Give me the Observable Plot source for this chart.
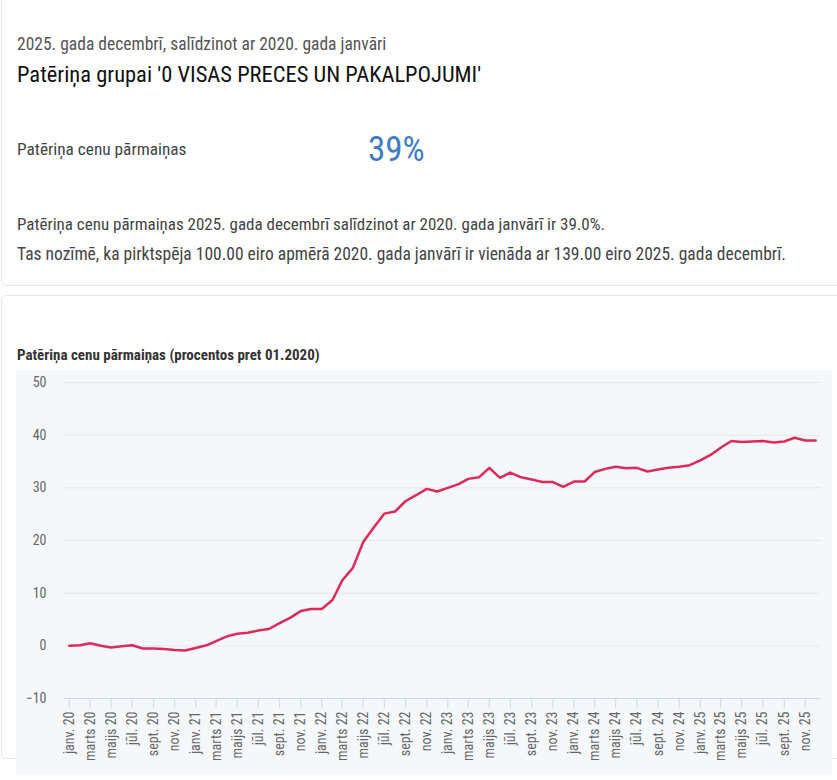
<!DOCTYPE html>
<html>
<head>
<meta charset="utf-8">
<script src="https://cdn.jsdelivr.net/npm/d3@7"></script>
<script src="https://cdn.jsdelivr.net/npm/@observablehq/plot@0.6"></script>
<style>
  html, body { margin: 0; padding: 0; background: #fff; width: 837px; height: 780px; overflow: hidden; }
  body { position: relative; font-family: "Roboto Condensed", "Liberation Sans Narrow", "DejaVu Sans Condensed", Roboto, sans-serif; }
  .card { position: absolute; border: 1px solid #e6e6e6; border-radius: 5px; background: #fff; box-sizing: border-box; }
  .t { position: absolute; left: 17px; line-height: 1; white-space: nowrap; }
  #chart { position: absolute; left: 16px; top: 370px; }
</style>
</head>
<body>
<div class="card" style="left:1px; top:-10px; width:860px; height:296px;"></div>
<div class="card" style="left:1px; top:295px; width:860px; height:464px;"></div>

<div class="t" id="sub" style="top:35.7px; font-size:17.5px; color:#555;"></div>
<div class="t" id="title" style="top:62.6px; font-size:22.5px; color:#111;"></div>
<div class="t" id="label" style="top:141px; font-size:17.3px; color:#444;"></div>
<div class="t" id="big" style="left:368px; top:132.2px; font-size:35px; color:#3d7cc9;"></div>
<div class="t" id="p1" style="top:216.4px; font-size:17px; color:#444;"></div>
<div class="t" id="p2" style="top:245.7px; font-size:17.5px; color:#444;"></div>
<div class="t" id="ctitle" style="top:348.2px; font-size:15px; font-weight:bold; color:#333;"></div>
<div id="chart"></div>

<script>
// ---- Texts ----
const subtitleText = "2025. gada decembrī, salīdzinot ar 2020. gada janvāri";
const titleText = "Patēriņa grupai '0 VISAS PRECES UN PAKALPOJUMI'";
const kpiLabel = "Patēriņa cenu pārmaiņas";
const kpiValue = "39%";
const paragraph1 = "Patēriņa cenu pārmaiņas 2025. gada decembrī salīdzinot ar 2020. gada janvārī ir 39.0%.";
const paragraph2 = "Tas nozīmē, ka pirktspēja 100.00 eiro apmērā 2020. gada janvārī ir vienāda ar 139.00 eiro 2025. gada decembrī.";
const chartTitle = "Patēriņa cenu pārmaiņas (procentos pret 01.2020)";

// ---- Data: monthly change vs 01.2020 (%), Jan 2020 .. Dec 2025 ----
const startYear = 2020;
const values2020 = [0.0, 0.1, 0.5, 0.0, -0.3, -0.1, 0.1, -0.5, -0.5, -0.6, -0.8, -0.9];
const values2021 = [-0.4, 0.1, 0.9, 1.8, 2.3, 2.5, 2.9, 3.2, 4.3, 5.3, 6.6, 7.0];
const values2022 = [7.0, 8.7, 12.4, 14.8, 19.7, 22.5, 25.1, 25.5, 27.5, 28.6, 29.8, 29.3];
const values2023 = [30.0, 30.7, 31.7, 32.0, 33.8, 31.9, 32.9, 32.0, 31.6, 31.1, 31.1, 30.2];
const values2024 = [31.2, 31.2, 33.0, 33.6, 34.0, 33.7, 33.8, 33.1, 33.5, 33.8, 34.0, 34.3];
const values2025 = [35.2, 36.3, 37.6, 38.9, 38.7, 38.8, 38.9, 38.6, 38.8, 39.5, 39.0, 39.0];

// ---- Axis labels ----
const monthAbbr = ["janv.", "febr.", "marts", "apr.", "maijs", "jūn.", "jūl.", "aug.", "sept.", "okt.", "nov.", "dec."];
const yTicks = [-10, 0, 10, 20, 30, 40, 50];
const lineColor = "#de2a5b";

document.getElementById("sub").textContent = subtitleText;
document.getElementById("title").textContent = titleText;
document.getElementById("label").textContent = kpiLabel;
document.getElementById("big").textContent = kpiValue;
document.getElementById("p1").textContent = paragraph1;
document.getElementById("p2").textContent = paragraph2;
document.getElementById("ctitle").textContent = chartTitle;

const allValues = [values2020, values2021, values2022, values2023, values2024, values2025];
const data = [];
allValues.forEach((arr, yi) => arr.forEach((v, m) => data.push({date: new Date(Date.UTC(startYear + yi, m, 1)), value: v})));

const fontStack = getComputedStyle(document.body).fontFamily;

const chart = Plot.plot({
  width: 816,
  height: 405,
  marginTop: 12,
  marginBottom: 77,
  marginLeft: 48,
  marginRight: 12,
  style: {background: "#f5f8fa", fontFamily: fontStack, fontSize: "14px", color: "#666", overflow: "visible"},
  x: {type: "utc", domain: [new Date(Date.UTC(2019, 11, 18)), new Date(Date.UTC(2025, 11, 15))], label: null},
  y: {domain: [-10, 50], label: null},
  marks: [
    Plot.gridY(yTicks.filter(d => d > -10), {stroke: "#e6e6e6", strokeOpacity: 1, strokeWidth: 1}),
    Plot.ruleY([-10], {stroke: "#ccd6eb", strokeWidth: 1}),
    Plot.axisY({ticks: yTicks, tickSize: 0, tickPadding: 18, fill: "#666", label: null}),
    Plot.axisX({
      ticks: d3.utcMonth.every(2),
      tickFormat: d => `${monthAbbr[d.getUTCMonth()]} ${String(d.getUTCFullYear()).slice(2)}`,
      tickRotate: -90, tickSize: 10, tickPadding: 3, stroke: "#ccd6eb", fill: "#666", label: null
    }),
    Plot.lineY(data, {x: "date", y: "value", stroke: lineColor, strokeWidth: 2.5, curve: "linear"})
  ]
});
document.getElementById("chart").appendChild(chart);
</script>
</body>
</html>
